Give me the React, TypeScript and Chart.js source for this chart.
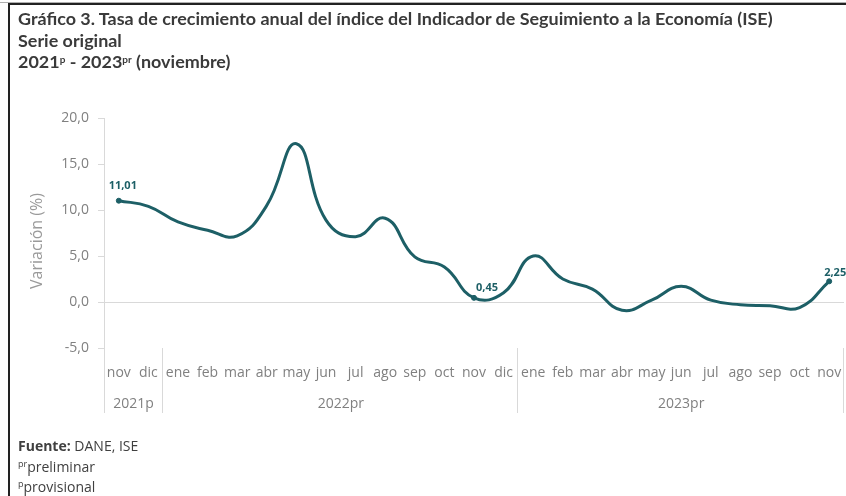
import React, { useEffect, useRef } from "react";
import { Chart, registerables } from "chart.js";

Chart.register(...registerables);

const months = ["nov", "dic", "ene", "feb", "mar", "abr", "may", "jun", "jul", "ago", "sep", "oct", "nov", "dic", "ene", "feb", "mar", "abr", "may", "jun", "jul", "ago", "sep", "oct", "nov"];
const values = [11.01, 10.4, 8.7, 7.8, 7.2, 10.5, 17.2, 8.9, 7.1, 9.1, 4.9, 3.8, 0.45, 1.0, 5.0, 2.5, 1.4, -0.9, 0.2, 1.7, 0.2, -0.3, -0.4, -0.6, 2.25];
const years = ["2021p", "2022pr", "2023pr"];
const yearStarts = [0, 2, 14];
const yearEnds = [1, 13, 24];
const labeledIdx = [0, 12, 24];
const yTicks = [-5, 0, 5, 10, 15, 20];
const yTitle = "Variación (%)";

const LINE = "#1d5f66";
const GRAY = "#808080";
const AXIS = "#d9d9d9";
const fmt = (v: number, d: number) => v.toFixed(d).replace(".", ",");

export default function App() {
  const ref = useRef<HTMLCanvasElement>(null);
  useEffect(() => {
    const groupPlugin = {
      id: "groups",
      afterDraw(chart: any) {
        const { ctx, chartArea, scales } = chart;
        const x = scales.x;
        const half = (x.getPixelForValue(1) - x.getPixelForValue(0)) / 2;
        ctx.save();
        ctx.strokeStyle = AXIS;
        ctx.lineWidth = 1;
        ctx.beginPath();
        ctx.moveTo(Math.round(chartArea.left) + 0.5, chartArea.top);
        ctx.lineTo(Math.round(chartArea.left) + 0.5, 413);
        ctx.stroke();
        const bounds = [x.getPixelForValue(2) - half, x.getPixelForValue(14) - half, x.getPixelForValue(24) + half];
        bounds.forEach((b: number) => {
          ctx.beginPath();
          ctx.moveTo(Math.round(b) - 0.5, chartArea.bottom);
          ctx.lineTo(Math.round(b) - 0.5, 413);
          ctx.stroke();
        });
        ctx.fillStyle = GRAY;
        ctx.font = "14px 'Open Sans'";
        ctx.textAlign = "center";
        ctx.textBaseline = "middle";
        years.forEach((y, i) => {
          const a = x.getPixelForValue(yearStarts[i]) - half;
          const b = x.getPixelForValue(yearEnds[i]) + half;
          ctx.fillText(y, (a + b) / 2, 404);
        });
        // y title
        ctx.save();
        ctx.translate(37, 241);
        ctx.rotate(-Math.PI / 2);
        ctx.fillStyle = "#9a9a9a";
        ctx.font = "16px 'Open Sans'";
        ctx.fillText(yTitle, 0, 0);
        ctx.restore();
        // data labels
        const meta = chart.getDatasetMeta(0);
        ctx.fillStyle = LINE;
        ctx.font = "bold 11px 'Open Sans'";
        const offs = [[4, -15], [13, -10], [6, -8]];
        labeledIdx.forEach((idx, k) => {
          const p = meta.data[idx];
          ctx.fillText(fmt(values[idx], 2), p.x + offs[k][0], p.y + offs[k][1]);
        });
        ctx.restore();
      },
    };

    const chart = new Chart(ref.current!, {
      type: "line",
      data: {
        labels: months,
        datasets: [
          {
            data: values,
            borderColor: LINE,
            backgroundColor: LINE,
            borderWidth: 3,
            tension: 0.45,
            pointRadius: values.map((_, i) => (labeledIdx.includes(i) ? 2.5 : 0)),
            pointBorderWidth: 1,
          },
        ],
      },
      options: {
        animation: false,
        responsive: false,
        layout: { padding: { top: 118, right: 0, left: 0, bottom: 0 } },
        plugins: { legend: { display: false }, tooltip: { enabled: false } },
        scales: {
          x: {
            type: "category",
            offset: true,
            grid: { display: false },
            border: { display: false },
            ticks: {
              color: GRAY,
              font: { family: "'Open Sans'", size: 14 },
              padding: 9,
              maxRotation: 0,
              autoSkip: false,
            },
            afterFit: (s: any) => {
              s.height = 148;
              s.paddingLeft = 0;
              s.paddingRight = 0;
            },
          },
          y: {
            min: -5,
            max: 20,
            afterBuildTicks: (s: any) => {
              s.ticks = yTicks.map((v) => ({ value: v }));
            },
            border: { display: false },
            grid: {
              color: (c: any) => (c.tick && c.tick.value === 0 ? AXIS : "rgba(0,0,0,0)"),
              tickColor: AXIS,
              tickLength: 6,
              drawTicks: true,
            },
            ticks: {
              color: GRAY,
              font: { family: "'Open Sans'", size: 14 },
              padding: 9,
              callback: (v: any) => fmt(Number(v), 1),
            },
            afterFit: (s: any) => {
              s.width = 104;
            },
          },
        },
      },
      plugins: [groupPlugin],
    });
    return () => chart.destroy();
  }, []);

  const textStyle: React.CSSProperties = {
    position: "absolute",
    left: 18,
    fontFamily: "Lato, 'Open Sans', sans-serif",
    color: "#3a3a3a",
    whiteSpace: "nowrap",
  };
  const sup = (t: string, size: number, top: number) => (
    <span style={{ fontSize: size, position: "relative", top, lineHeight: 0 }}>{t}</span>
  );

  return (
    <div style={{ position: "fixed", left: 0, top: 0, width: 846, height: 496, background: "#fff", overflow: "hidden" }}>
      <div style={{ position: "absolute", left: 0, top: 2, width: 846, height: 1, background: "#b0b0b0" }} />
      <div style={{ position: "absolute", left: 8, top: 3, width: 838, height: 2, background: "#222" }} />
      <div style={{ position: "absolute", left: 8, top: 3, width: 2, height: 493, background: "#222" }} />
      <canvas ref={ref} width={849} height={496} style={{ position: "absolute", left: 0, top: 0 }} />
      <div style={{ ...textStyle, top: 8, fontWeight: 700, fontSize: 17.95, lineHeight: "21.5px" }}>
        <div>Gráfico 3. Tasa de crecimiento anual del índice del Indicador de Seguimiento a la Economía (ISE)</div>
        <div>Serie original</div>
        <div>
          2021{sup("p", 10, -5)} - 2023{sup("pr", 10, -5)} (noviembre)
        </div>
      </div>
      <div style={{ ...textStyle, top: 436, fontSize: 14, lineHeight: "20.5px", fontFamily: "'Open Sans', sans-serif", color: "#404040" }}>
        <div>
          <b>Fuente:</b> DANE, ISE
        </div>
        <div>
          {sup("pr", 9, -5)}preliminar
        </div>
        <div>
          {sup("p", 9, -5)}provisional
        </div>
      </div>
    </div>
  );
}
